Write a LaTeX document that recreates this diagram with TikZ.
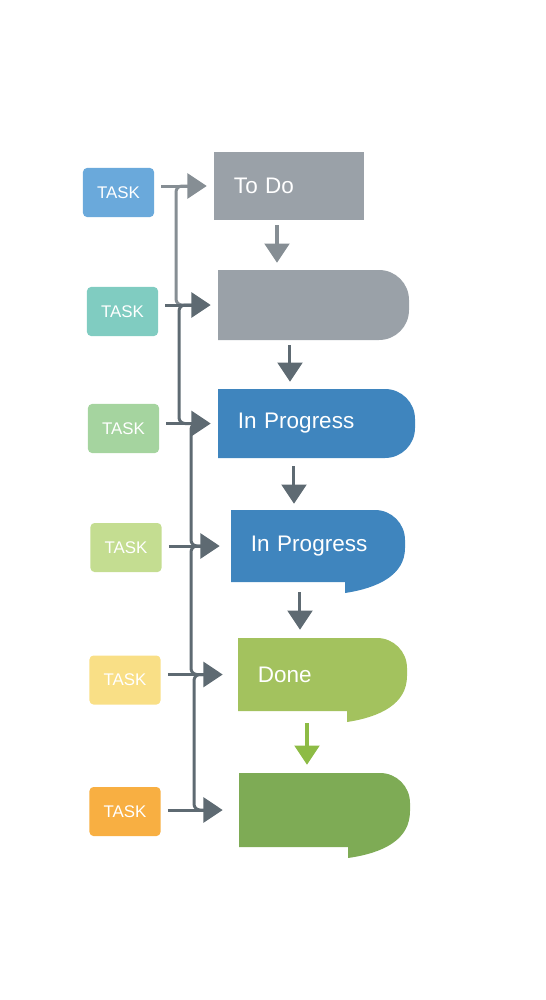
\documentclass[tikz,border=0pt]{standalone}
\usepackage{fontspec}
\setmainfont{Liberation Sans}
\usetikzlibrary{arrows.meta}
\definecolor{stagegray}{HTML}{9AA1A8}
\definecolor{stageblue}{HTML}{3F85BE}
\definecolor{stagelime}{HTML}{A3C25E}
\definecolor{stagegreen}{HTML}{7EAB55}
\definecolor{taskblue}{HTML}{6AA9DB}
\definecolor{taskteal}{HTML}{80CCC1}
\definecolor{taskmint}{HTML}{A5D49F}
\definecolor{tasklime}{HTML}{C4DD91}
\definecolor{taskyellow}{HTML}{F9DF86}
\definecolor{taskorange}{HTML}{F8AF42}
\definecolor{arrowgray}{HTML}{5E6A72}
\definecolor{arrowlight}{HTML}{868E94}
\definecolor{arrowgreen}{HTML}{8DBB45}
\begin{document}
\begin{tikzpicture}[x=0.025cm,y=-0.025cm,
    task/.style={rectangle,rounded corners=0.1cm,minimum width=1.775cm,minimum height=1.225cm,text=white,font=\fontsize{12}{14}\selectfont},
    stage/.style={rectangle,inner xsep=0.5cm,align=left,text=white,font=\fontsize{16}{19}\selectfont},
    arr/.style={-{Triangle[width=0.62cm,length=0.48cm]},line width=0.075cm,arrowgray,shorten <=0.175cm,shorten >=0.175cm},
    bus/.style={line width=0.075cm,arrowgray,rounded corners=0.15cm}]
  \useasboundingbox (0,0) rectangle (546,1000);

  % stage shapes
  \fill [stagegray] (214,152) rectangle (364,220);
  \fill [stagegray] (218,270) -- (379,270) arc [start angle=-90,end angle=0,radius=30] -- (409,310) arc [start angle=0,end angle=90,radius=30] -- (218,340) -- cycle;
  \fill [stageblue] (218,389) -- (385,389) arc [start angle=-90,end angle=0,radius=30] -- (415,428) arc [start angle=0,end angle=90,radius=30] -- (218,458) -- cycle;
  \fill [stageblue] (231,510) -- (375,510) arc [start angle=-90,end angle=0,radius=30] -- (405,548) .. controls (405,575) and (378,588) .. (345,593) -- (345,582) -- (231,582) -- cycle;
  \fill [stagelime] (238,638) -- (377,638) arc [start angle=-90,end angle=0,radius=30] -- (407,676) .. controls (407,704) and (380,717) .. (347,722) -- (347,711) -- (238,711) -- cycle;
  \fill [stagegreen] (239,773) -- (380,773) arc [start angle=-90,end angle=0,radius=30] -- (410,811) .. controls (410,840) and (383,853) .. (348,858) -- (348,847) -- (239,847) -- cycle;

  % stages
  \node [stage,text width=2.75cm,minimum height=1.7cm] (box1) at (289,186) {To Do};
  \node [stage,text width=3.775cm,minimum height=1.75cm] (box2) at (313.5,305) {};
  \node [stage,text width=3.925cm,minimum height=1.725cm] (box3) at (316.5,423.5) {In Progress};
  \node [stage,text width=3.35cm,minimum height=1.8cm] (box4) at (318,546) {In Progress};
  \node [stage,text width=3.225cm,minimum height=1.825cm] (box5) at (322.5,674.5) {Done};
  \node [stage,text width=3.275cm,minimum height=1.85cm] (box6) at (324.5,810) {};

  % tasks
  \node [task,fill=taskblue] (t1) at (118.5,192.5) {TASK};
  \node [task,fill=taskteal] (t2) at (122.5,311.5) {TASK};
  \node [task,fill=taskmint] (t3) at (123.5,428.5) {TASK};
  \node [task,fill=tasklime] (t4) at (126,547.5) {TASK};
  \node [task,fill=taskyellow] (t5) at (125,680) {TASK};
  \node [task,fill=taskorange] (t6) at (125,811.5) {TASK};

  % bus lines
  \coordinate (b1) at (176,0);
  \coordinate (b2) at (179,0);
  \coordinate (b3) at (191,0);
  \coordinate (b4) at (191,0);
  \coordinate (b5) at (194,0);
  \draw [bus,arrowlight] ([xshift=-0.5cm]box1.west) -| (b1 |- box2.west) -- ([xshift=-0.5cm]box2.west);
  \draw [bus] ([xshift=-0.5cm]box2.west) -| (b2 |- box3.west) -- ([xshift=-0.5cm]box3.west);
  \draw [bus] ([xshift=-0.5cm]box3.west) -| (b3 |- box4.west) -- ([xshift=-0.5cm]box4.west);
  \draw [bus] ([xshift=-0.5cm]box4.west) -| (b4 |- box5.west) -- ([xshift=-0.5cm]box5.west);
  \draw [bus] ([xshift=-0.5cm]box5.west) -| (b5 |- box6.west) -- ([xshift=-0.5cm]box6.west);

  % task arrows
  \draw [arr,arrowlight] (t1.east |- box1.west) -- (box1.west);
  \draw [arr] (t2.east |- box2.west) -- (box2.west);
  \draw [arr] (t3.east |- box3.west) -- (box3.west);
  \draw [arr,shorten >=0.275cm] (t4.east |- box4.west) -- (box4.west);
  \draw [arr,shorten >=0.375cm] (t5.east |- box5.west) -- (box5.west);
  \draw [arr,shorten >=0.4cm] (t6.east |- box6.west) -- (box6.west);

  % stage arrows
  \draw [arr,arrowlight,shorten <=0.125cm] ([xshift=-0.3cm]box1.south) -- ([xshift=-0.3cm]box1.south |- box2.north);
  \draw [arr,shorten <=0.125cm] ([xshift=-0.5875cm]box2.south) -- ([xshift=-0.5875cm]box2.south |- box3.north);
  \draw [arr,shorten <=0.2cm,shorten >=0.15cm] ([xshift=-0.5625cm]box3.south) -- ([xshift=-0.5625cm]box3.south |- box4.north);
  \draw [arr,shorten <=0.25cm,shorten >=0.2cm] ([xshift=-0.45cm]box4.south) -- ([xshift=-0.45cm]box4.south |- box5.north);
  \draw [arr,arrowgreen,shorten <=0.3cm,shorten >=0.2cm] ([xshift=-0.3875cm]box5.south) -- ([xshift=-0.3875cm]box5.south |- box6.north);
\end{tikzpicture}
\end{document}
